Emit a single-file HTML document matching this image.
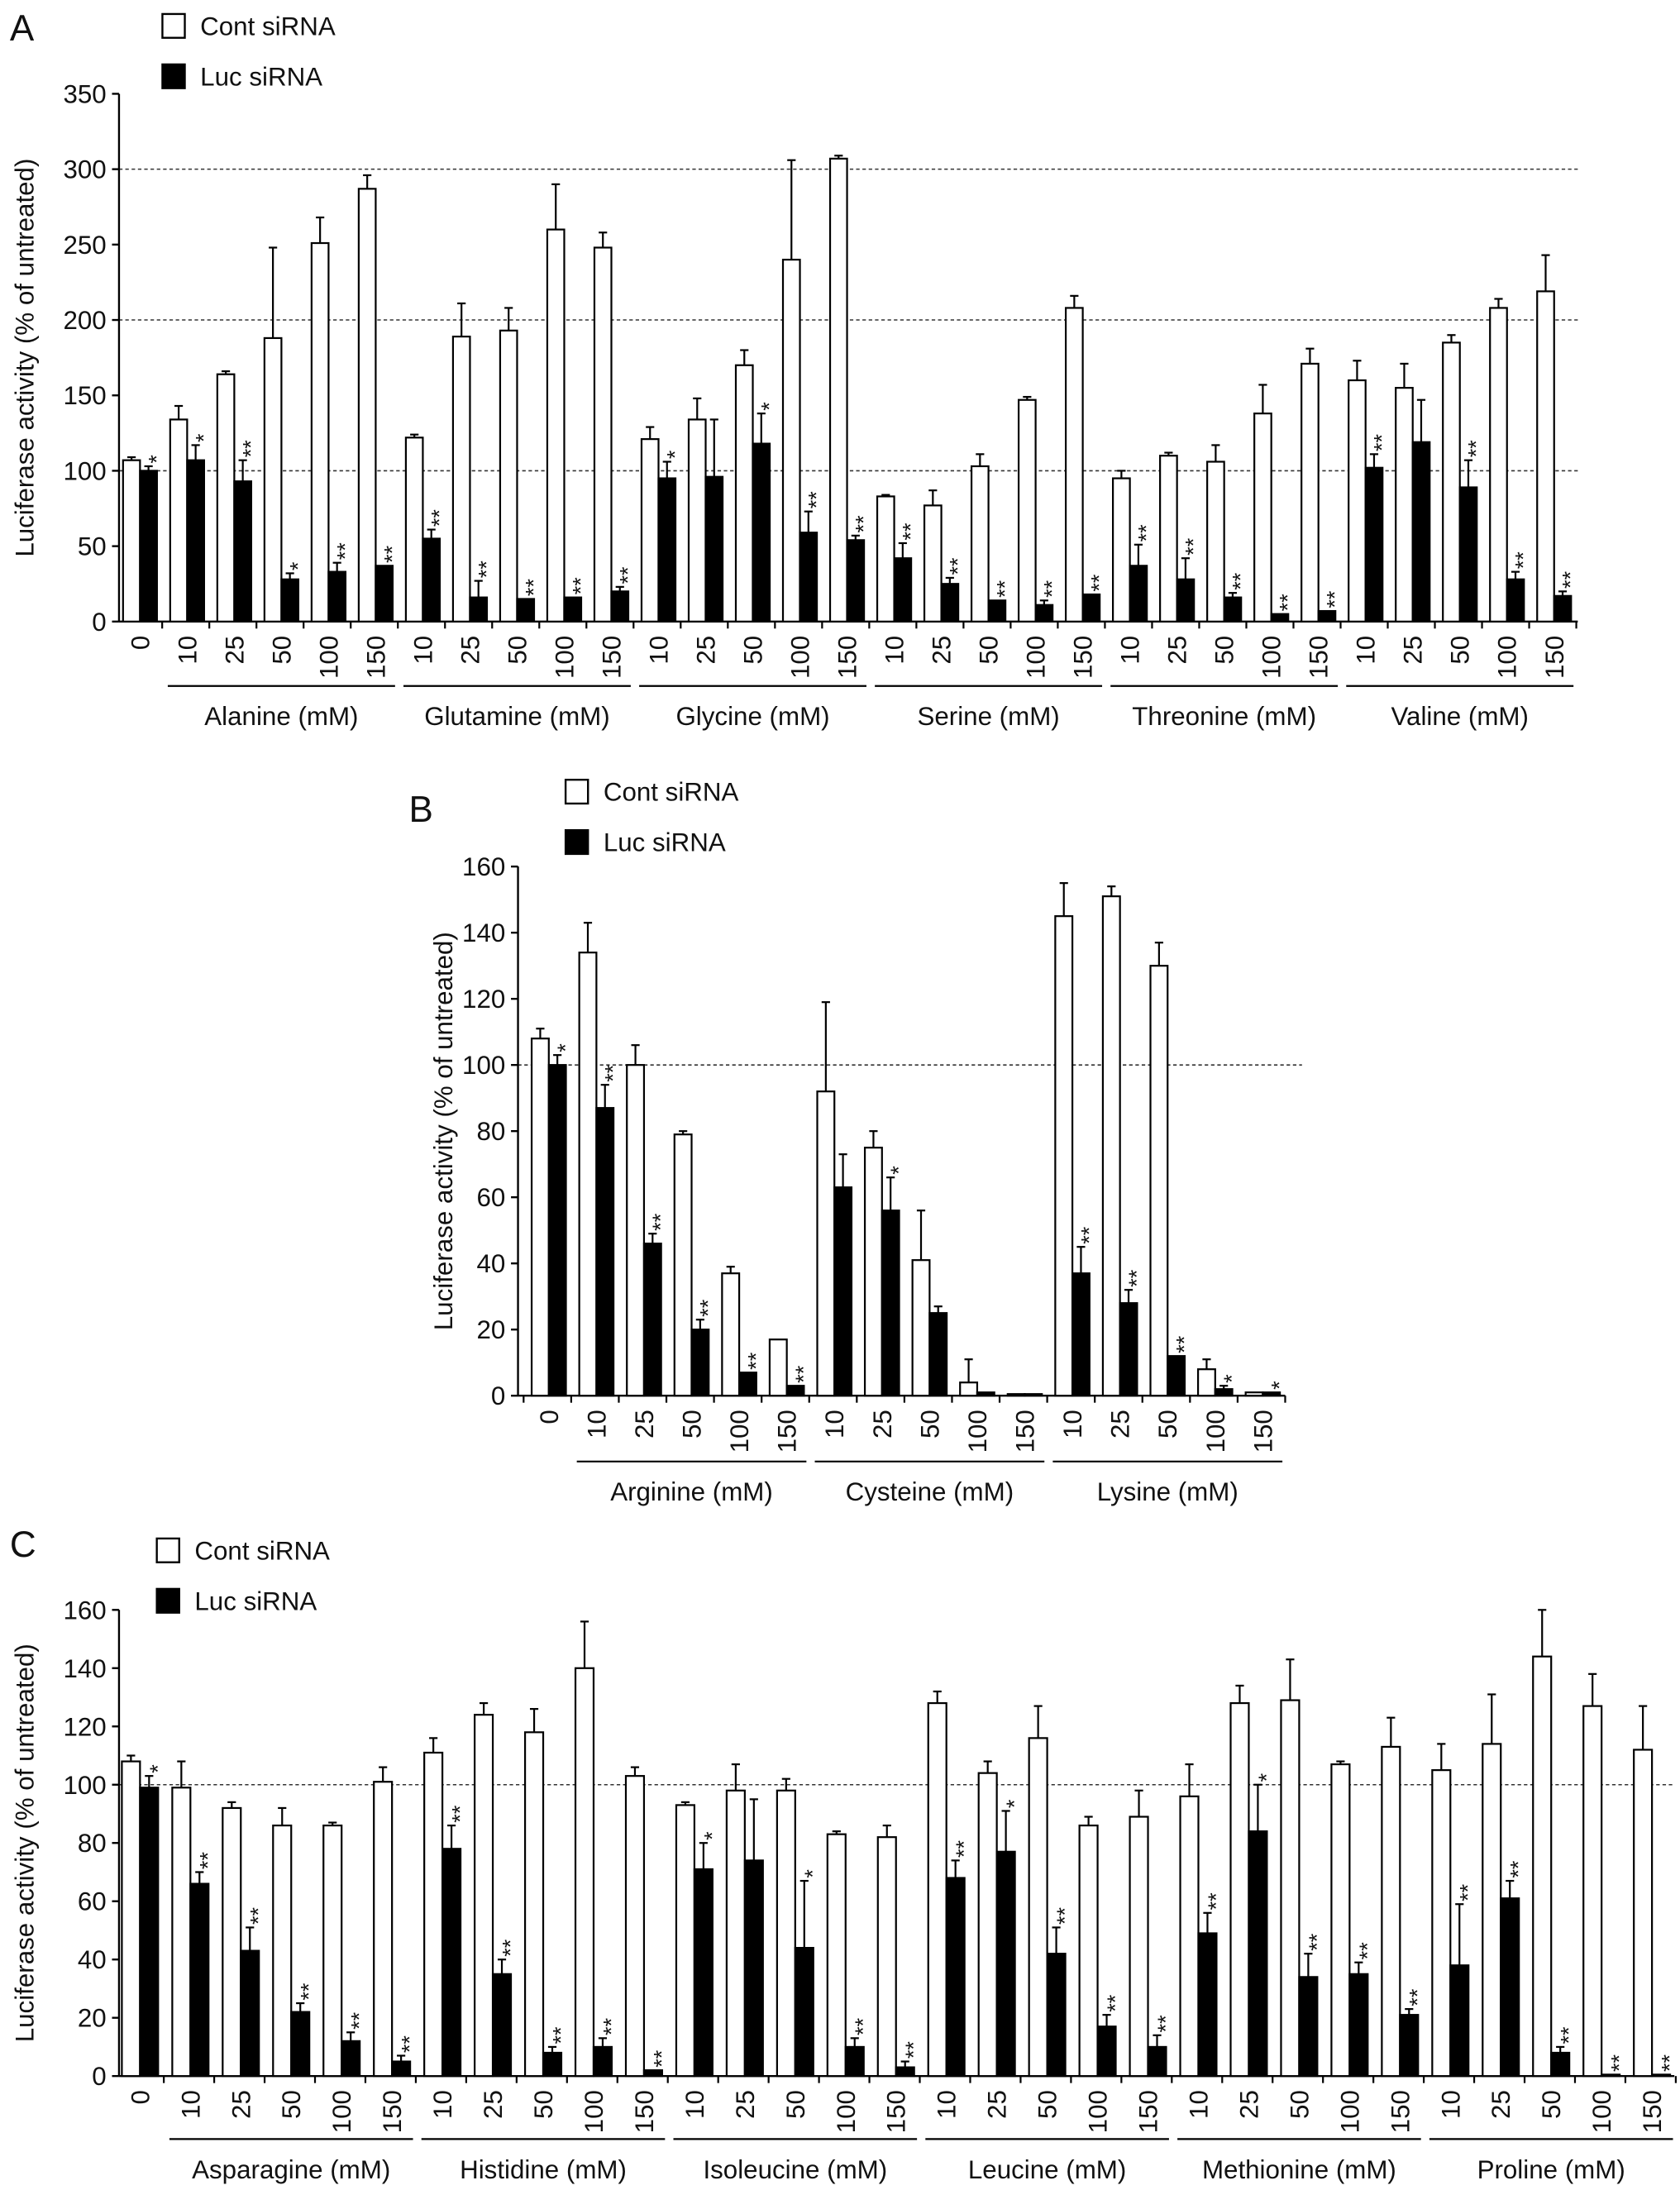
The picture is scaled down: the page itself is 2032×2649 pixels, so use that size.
<!DOCTYPE html>
<html><head><meta charset="utf-8"><style>
html,body{margin:0;padding:0;background:#fff;}
svg{display:block;}
text{font-family:"Liberation Sans",sans-serif;fill:#111;}
</style></head><body>
<svg id="fig" width="2032" height="2649" viewBox="0 0 1200 1564.4" xmlns="http://www.w3.org/2000/svg"></svg>
<script>
// Panel A data
const aCats = ["0","10","25","50","100","150","10","25","50","100","150","10","25","50","100","150","10","25","50","100","150","10","25","50","100","150","10","25","50","100","150"];
const aCont = [107,134,164,188,251,287,122,189,193,260,248,121,134,170,240,307,83,77,103,147,208,95,110,106,138,171,160,155,185,208,219];
const aContErr = [2,9,2,60,17,9,2,22,15,30,10,8,14,10,66,2,1,10,8,2,8,5,2,11,19,10,13,16,5,6,24];
const aLuc = [100,107,93,28,33,37,55,16,15,16,20,95,96,118,59,54,42,25,14,11,18,37,28,16,5,7,102,119,89,28,17];
const aLucErr = [3,10,14,4,6,0,6,11,0,0,3,11,38,20,14,3,10,4,0,3,0,14,14,3,0,0,9,28,18,5,3];
const aSig = ["*","*","**","*","**","**","**","**","**","**","**","*","","*","**","**","**","**","**","**","**","**","**","**","**","**","**","","**","**","**"];
const aGroups = ["Alanine (mM)","Glutamine (mM)","Glycine (mM)","Serine (mM)","Threonine (mM)","Valine (mM)"];
const aTicks = [0,50,100,150,200,250,300,350];
// Panel B data
const bCats = ["0","10","25","50","100","150","10","25","50","100","150","10","25","50","100","150"];
const bCont = [108,134,100,79,37,17,92,75,41,4,0.5,145,151,130,8,1];
const bContErr = [3,9,6,1,2,0,27,5,15,7,0,10,3,7,3,0];
const bLuc = [100,87,46,20,7,3,63,56,25,1,0.5,37,28,12,2,1];
const bLucErr = [3,7,3,3,0,0,10,10,2,0,0,8,4,0,1,0];
const bSig = ["*","**","**","**","**","**","","*","","","","**","**","**","*","*"];
const bGroups = ["Arginine (mM)","Cysteine (mM)","Lysine (mM)"];
const bTicks = [0,20,40,60,80,100,120,140,160];
// Panel C data
const cCats = aCats;
const cCont = [108,99,92,86,86,101,111,124,118,140,103,93,98,98,83,82,128,104,116,86,89,96,128,129,107,113,105,114,144,127,112];
const cContErr = [2,9,2,6,1,5,5,4,8,16,3,1,9,4,1,4,4,4,11,3,9,11,6,14,1,10,9,17,16,11,15];
const cLuc = [99,66,43,22,12,5,78,35,8,10,2,71,74,44,10,3,68,77,42,17,10,49,84,34,35,21,38,61,8,0.5,0.5];
const cLucErr = [4,4,8,3,3,2,8,5,2,3,0,9,21,23,3,2,6,14,9,4,4,7,16,8,4,2,21,6,2,0,0];
const cSig = ["*","**","**","**","**","**","**","**","**","**","**","*","","*","**","**","**","*","**","**","**","**","*","**","**","**","**","**","**","**","**"];
const cGroups = ["Asparagine (mM)","Histidine (mM)","Isoleucine (mM)","Leucine (mM)","Methionine (mM)","Proline (mM)"];
const cTicks = [0,20,40,60,80,100,120,140,160];

const NS="http://www.w3.org/2000/svg";
const svg=document.getElementById('fig');
function mk(tag,attrs,parent,txt){const e=document.createElementNS(NS,tag);for(const k in attrs)e.setAttribute(k,attrs[k]);if(txt!==undefined)e.textContent=txt;(parent||svg).appendChild(e);return e;}
const FS=18.5;
function panel(o){
  const g=mk('g',{});
  
  
  const ymax=o.ticks[o.ticks.length-1];
  const yS=v=>o.y0-(v/ymax)*(o.y0-o.yTop);
  const xC=i=>o.x0cat+i*o.sp;
  const bw=o.sp*0.36;
  const L=mk('text',{x:o.letter[0],y:o.letter[1],'font-size':26},g,o.id);
  
  [['Cont siRNA','#fff',0],['Luc siRNA','#000',36]].forEach(([t,f,dy])=>{
    const r=mk('rect',{x:o.leg[0],y:o.leg[1]+dy,width:16,height:17,fill:f,stroke:'#000','stroke-width':1.4},g);
    
    const tx=mk('text',{x:o.leg[0]+27,y:o.leg[1]+dy+15,'font-size':FS},g,t);
    
  });
  o.dots.forEach(v=>{
    const d=mk('line',{x1:o.xAxis,x2:o.dotEnd,y1:yS(v),y2:yS(v),stroke:'#333','stroke-width':0.9,'stroke-dasharray':'2.5,2'},g);
    
  });
  const ya=mk('line',{x1:o.xAxis,x2:o.xAxis,y1:o.yTop,y2:o.y0,stroke:'#000','stroke-width':1.4},g);
  
  o.ticks.forEach(v=>{
    mk('line',{x1:o.xAxis-5,x2:o.xAxis,y1:yS(v),y2:yS(v),stroke:'#000','stroke-width':1.4},g);
    const t=mk('text',{x:o.xAxis-9,y:yS(v)+6.5,'font-size':FS,'text-anchor':'end'},g,String(v));
    
  });
  const yt=mk('text',{transform:`translate(${o.titleX},${(o.y0+o.yTop)/2}) rotate(-90)`,'font-size':FS,'text-anchor':'middle'},g,'Luciferase activity (% of untreated)');
  
  const xa=mk('line',{x1:o.xAxis,x2:o.xEnd,y1:o.y0,y2:o.y0,stroke:'#000','stroke-width':1.4},g);
  
  for(let i=0;i<=o.cats.length;i++){
    const tx=xC(i)-o.sp/2-1; if(tx<=o.xAxis) continue;
    mk('line',{x1:tx,x2:tx,y1:o.y0,y2:o.y0+5,stroke:'#000','stroke-width':1.3},g);
  }
  o.cats.forEach((c,i)=>{
    const cx=xC(i);
    const cont=mk('rect',{x:cx-bw,y:yS(o.cont[i]),width:bw,height:o.y0-yS(o.cont[i]),fill:'#fff',stroke:'#000','stroke-width':1.3},g);
    
    const ce=o.contErr[i];
    if(ce>0){mk('line',{x1:cx-bw/2,x2:cx-bw/2,y1:yS(o.cont[i]),y2:yS(o.cont[i]+ce),stroke:'#000','stroke-width':1.3},g);
      mk('line',{x1:cx-bw/2-3,x2:cx-bw/2+3,y1:yS(o.cont[i]+ce),y2:yS(o.cont[i]+ce),stroke:'#000','stroke-width':1.3},g);}
    const luc=mk('rect',{x:cx,y:yS(o.luc[i]),width:bw,height:o.y0-yS(o.luc[i]),fill:'#000',stroke:'#000','stroke-width':1.3},g);
    
    const le=o.lucErr[i];
    const top=yS(o.luc[i]+le);
    if(le>0){mk('line',{x1:cx+bw/2,x2:cx+bw/2,y1:yS(o.luc[i]),y2:top,stroke:'#000','stroke-width':1.3},g);
      mk('line',{x1:cx+bw/2-3,x2:cx+bw/2+3,y1:top,y2:top,stroke:'#000','stroke-width':1.3},g);}
    if(o.sig[i]){
      const s=mk('text',{transform:`translate(${cx+bw+5},${top-2}) rotate(-90)`,'font-size':16,'text-anchor':'start'},g,o.sig[i]);
      
    }
    const lb=mk('text',{transform:`translate(${cx+6.5},${o.y0+10}) rotate(-90)`,'font-size':FS,'text-anchor':'end'},g,c);
    
  });
  o.groups.forEach((gn,k)=>{
    const a=xC(1+k*5)-o.sp/2+3, b=xC(5+k*5)+o.sp/2-3;
    const ln=mk('line',{x1:a,x2:b,y1:o.gLineY,y2:o.gLineY,stroke:'#000','stroke-width':1.3},g);
    
    const t=mk('text',{x:(a+b)/2,y:o.gLineY+28,'font-size':FS,'text-anchor':'middle'},g,gn);
    
  });
}
panel({id:'A',cats:aCats,cont:aCont,contErr:aContErr,luc:aLuc,lucErr:aLucErr,sig:aSig,groups:aGroups,ticks:aTicks,
  xAxis:85,xEnd:1127,dotEnd:1127,y0:444,yTop:67,x0cat:100,sp:33.67,dots:[100,200,300],letter:[7,29],leg:[116,10],titleX:24,gLineY:490});
panel({id:'B',cats:bCats,cont:bCont,contErr:bContErr,luc:bLuc,lucErr:bLucErr,sig:bSig,groups:bGroups,ticks:bTicks,
  xAxis:370,xEnd:918,dotEnd:930,y0:997,yTop:619,x0cat:392,sp:34,dots:[100],letter:[292,587],leg:[404,557],titleX:323,gLineY:1044});
panel({id:'C',cats:cCats,cont:cCont,contErr:cContErr,luc:cLuc,lucErr:cLucErr,sig:cSig,groups:cGroups,ticks:cTicks,
  xAxis:85,xEnd:1196,dotEnd:1196,y0:1483,yTop:1150,x0cat:100,sp:36,dots:[100],letter:[7,1112],leg:[112,1099],titleX:24,gLineY:1528});
</script>
</body></html>
